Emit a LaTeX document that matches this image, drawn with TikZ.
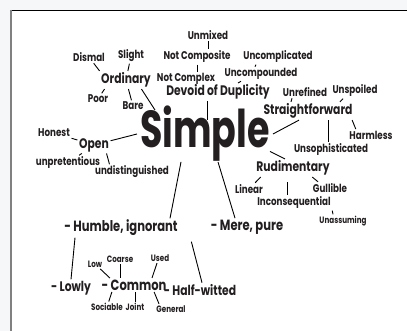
\documentclass[tikz,border=0pt]{standalone}
\usepackage{fontspec}
\setmainfont{Poppins}[FakeStretch=0.78]
\newfontfamily\headfont{Poppins}[FakeStretch=0.7]
\usetikzlibrary{calc}
\definecolor{inkgray}{HTML}{231F20}
\definecolor{edgegray}{HTML}{F5F7F9}
\begin{document}
\begin{tikzpicture}[x=1pt,y=-1pt,
		word/.style={inner sep=1.5pt,text=inkgray,font=\fontsize{11.2}{12}\selectfont\bfseries},
		tinyword/.style={word,font=\fontsize{9.2}{10}\selectfont\bfseries},
		midword/.style={word,font=\fontsize{13.8}{15}\selectfont\bfseries},
		bigword/.style={word,font=\fontsize{14.8}{16}\selectfont\bfseries},
		link/.style={black,line width=0.9pt}]
	\useasboundingbox (0,0) rectangle (407,331);
	\fill[edgegray] (0,0) rectangle (407,331);
	\fill[white] (10,10) rectangle (407,331);
	\draw[black,line width=1.2pt] (10,10.5) -- (407,10.5);
	\draw[gray,line width=1.6pt] (10.8,10) -- (10.8,331);

	\node[word,inner sep=0pt,font=\fontsize{52}{53}\selectfont\headfont\bfseries](simple) at (205,134){Simple};

	% top cluster
	\node[word](unmixed) at (208,35){Unmixed};
	\node[word](notcomposite) at (197,57){Not Composite};
	\node[word](notcomplex) at (186,79){Not Complex};
	\node[midword](devoid) at (218,92){Devoid of Duplicity};
	\node[word](uncomplicated) at (278,57){Uncomplicated};
	\node[word](uncompounded) at (261,74){Uncompounded};

	% left cluster
	\node[word](dismal) at (89,57){Dismal};
	\node[word](slight) at (131,56){Slight};
	\node[midword](ordinary) at (126,80){Ordinary};
	\node[word](poor) at (98,99){Poor};
	\node[word](bare) at (133,106){Bare};
	\node[word](honest) at (54,133){Honest};
	\node[midword](open) at (94,145){Open};
	\node[word](unpretentious) at (68,163){unpretentious};
	\node[word](undistinguished) at (132,172){undistinguished};

	% right cluster
	\node[word](unrefined) at (305,92){Unrefined};
	\node[word](unspoiled) at (355,91){Unspoiled};
	\node[midword](straightforward) at (308,111){Straightforward};
	\node[word](harmless) at (371,135){Harmless};
	\node[word](unsophisticated) at (331,150){Unsophisticated};
	\node[midword](rudimentary) at (293,168){Rudimentary};
	\node[word](linear) at (249,189){Linear};
	\node[word](gullible) at (330,188){Gullible};
	\node[word](inconsequential) at (294,203){Inconsequential};
	\node[tinyword](unassuming) at (343,221){Unassuming};

	% bottom cluster
	\node[bigword](mere) at (247,227){- Mere, pure};
	\node[bigword](humble) at (121,228){- Humble, ignorant};
	\node[midword](lowly) at (71,288){- Lowly};
	\node[bigword](common) at (134,285){- Common};
	\node[midword](halfwitted) at (200,290){- Half-witted};
	\node[tinyword](low) at (95,264){Low};
	\node[tinyword](coarse) at (120,259){Coarse};
	\node[tinyword](used) at (160,258){Used};
	\node[tinyword](sociable) at (107,307){Sociable};
	\node[tinyword](joint) at (135,307){Joint};
	\node[tinyword](general) at (171,309){General};

	\draw[link](unmixed)--(unmixed |- notcomposite.north);
	\draw[link](notcomposite)--(notcomposite |- notcomplex.north);
	\draw[link]([xshift=-11pt]devoid.south)--([xshift=-11pt,yshift=-14pt]devoid.south |- simple.north);
	\draw[link]([xshift=-22pt]uncomplicated.south)--([xshift=-6pt]uncompounded.north);
	\draw[link]([xshift=-20pt]uncompounded.south)--([xshift=20pt]devoid.north);

	\draw[link](dismal)--(ordinary.north west);
	\draw[link](slight)--(ordinary);
	\draw[link]([xshift=5pt]ordinary.south west)--(poor);
	\draw[link](ordinary)--(bare);
	\draw[link]([xshift=-11pt]ordinary.south east)--([xshift=15pt,yshift=-4pt]simple.north west);
	\draw[link](honest)--(open);
	\draw[link](open)--(unpretentious);
	\draw[link]([xshift=-4pt]open.south east)--([xshift=16pt]undistinguished.north west);
	\draw[link](open)--([xshift=-3pt]simple.west);

	\draw[link]([xshift=3pt]simple.east)--([xshift=-9pt]straightforward.south);
	\draw[link]([xshift=-13pt]unrefined.south)--([xshift=-17pt]straightforward.north);
	\draw[link]([xshift=-12pt]unspoiled.south)--([xshift=32pt]straightforward.north);
	\draw[link]([xshift=-2pt]straightforward.south east)--([xshift=8pt]harmless.north west);
	\draw[link]([xshift=-3pt]unsophisticated.north |- straightforward.south)--([xshift=-3pt]unsophisticated.north);
	\draw[link](simple.-15)--([xshift=-8pt]rudimentary.north);
	\draw[link]([xshift=6pt]rudimentary.south west)--(linear);
	\draw[link]([xshift=-19pt]rudimentary.south east)--([xshift=-12pt]gullible.north);
	\draw[link,shorten <=5pt]([xshift=-6pt]rudimentary.south)--([xshift=-6pt]rudimentary.south |- inconsequential.north);
	\draw[link](inconsequential.south east)--([xshift=-10pt]unassuming.north);

	\draw[link]([xshift=13pt]simple.south)--([xshift=-12pt]mere.north);
	\draw[link]([xshift=-24pt]simple.south)--([xshift=49pt]humble.north);
	\draw[link]([xshift=-46pt]humble.south)--(lowly.north);
	\draw[link]([shift={(12pt,-4pt)}]humble.south east)--([xshift=2pt]halfwitted.north);
	\draw[link](low)--([xshift=10pt]common.north west);
	\draw[link](coarse)--(coarse |- common.north);
	\draw[link]([xshift=-3pt]used.south)--([xshift=-8pt]used.south |- common.north);
	\draw[link]([xshift=12pt]common.south west)--(sociable);
	\draw[link](joint |- common.south)--(joint);
	\draw[link]([xshift=-14pt]common.south east)--([xshift=-12pt]general.north);
\end{tikzpicture}
\end{document}
